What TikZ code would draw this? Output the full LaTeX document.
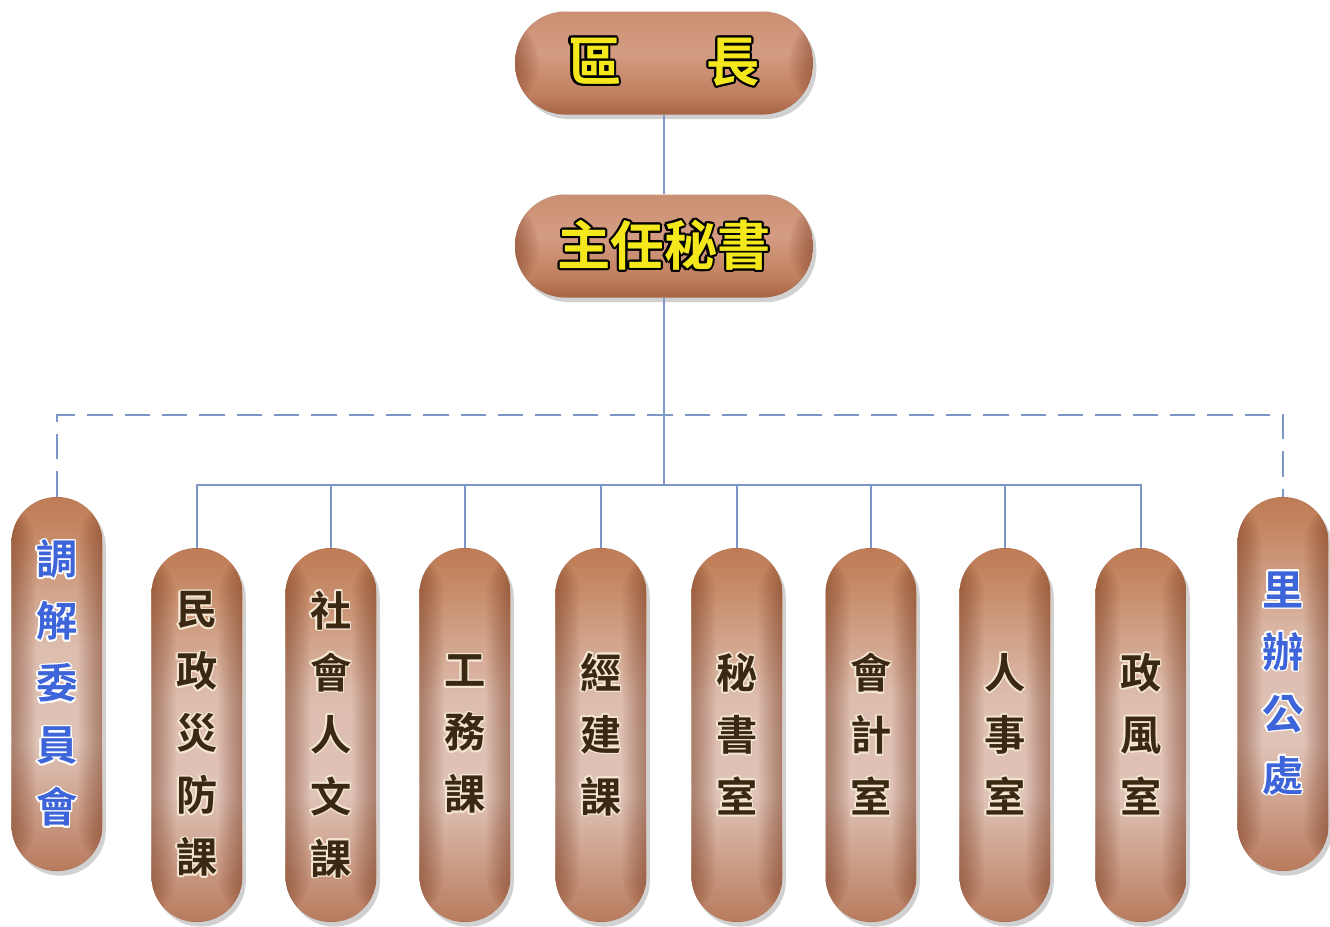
\documentclass[tikz,border=0pt]{standalone}
\usepackage{fontspec}
\newfontfamily\cjk{Noto Sans CJK TC}[BoldFont={Noto Sans CJK TC Bold}]
\usepackage{contour}
\usetikzlibrary{shadows}
\definecolor{lineblue}{HTML}{7D97C7}
\definecolor{topyellow}{HTML}{F4E81C}
\definecolor{coltext}{HTML}{3A2812}
\definecolor{colglow}{HTML}{F4E6D2}
\definecolor{sideblue}{HTML}{3D64D8}
\definecolor{edgebrown}{HTML}{6E2E12}
\definecolor{ca}{HTML}{853C1C}
\definecolor{cb}{HTML}{9C4E2A}
\definecolor{cc}{HTML}{B87A5C}
\definecolor{cd}{HTML}{E0C4B8}
\definecolor{ce}{HTML}{DDBDAE}
\definecolor{cf}{HTML}{C2835E}
\definecolor{cg}{HTML}{B25F34}
\definecolor{ch}{HTML}{A4552C}
\definecolor{ta}{HTML}{6E2E14}
\definecolor{tb}{HTML}{8E4628}
\definecolor{tc}{HTML}{C0805F}
\definecolor{td}{HTML}{D49C82}
\definecolor{te}{HTML}{C98E70}
\definecolor{tf}{HTML}{B06A48}
\definecolor{tg}{HTML}{9A5030}
\pgfdeclareverticalshading{colshade}{100bp}{
  color(0bp)=(ca); color(10bp)=(cb); color(25bp)=(cc);
  color(42bp)=(cd); color(55bp)=(ce); color(72bp)=(cf);
  color(88bp)=(cg); color(100bp)=(ch)}
\pgfdeclareverticalshading{topshade}{100bp}{
  color(0bp)=(ta); color(14bp)=(tb); color(35bp)=(tc);
  color(55bp)=(td); color(78bp)=(te); color(92bp)=(tf);
  color(100bp)=(tg)}
\newcommand\ycj[1]{\contour{black}{\textcolor{topyellow}{#1}}}
\newcommand\bcj[1]{\contour{colglow}{\textcolor{coltext}{#1}}}
\newcommand\scj[1]{\contour{white}{\textcolor{sideblue}{#1}}}
\contournumber{12}
\begin{document}
\begin{tikzpicture}[x=0.75pt,y=-0.75pt,
  shadowed/.style={drop shadow={shadow xshift=2.5pt, shadow yshift=-3.5pt, opacity=0.18, fill=black}},
  edges/.style={path picture={
    \foreach \w in {1.5,3,...,18} {
      \fill[edgebrown, opacity=0.045] (path picture bounding box.south west) rectangle ([xshift=\w pt]path picture bounding box.north west);
      \fill[edgebrown, opacity=0.045] (path picture bounding box.south east) rectangle ([xshift=-\w pt]path picture bounding box.north east);
    }}},
  topbox/.style={shadowed, shading=topshade, rounded corners=38pt, edges,
    minimum width=223.5pt, minimum height=77.25pt, inner sep=0pt,
    font=\cjk\bfseries\fontsize{40pt}{40pt}\selectfont},
  colbox/.style={shadowed, shading=colshade, rounded corners=34pt, edges,
    minimum width=68.25pt, minimum height=280.5pt, inner sep=0pt, align=center,
    font=\cjk\bfseries\fontsize{31pt}{46.5pt}\selectfont},
  conn/.style={draw=lineblue, line width=1.5pt},
  dashconn/.style={conn, dash pattern=on 19pt off 9pt}
]
\useasboundingbox (0,0) rectangle (1330,926);
\contourlength{1.6pt}
\node[topbox] (qz) at (664,63) {\ycj{區}\hspace{1.6em}\ycj{長}};
\node[topbox] (zr) at (664,246) {\ycj{主}\ycj{任}\ycj{秘}\ycj{書}};
\contourlength{1.2pt}
\node[colbox] (c1) at (197,735) {\bcj{民}\\\bcj{政}\\\bcj{災}\\\bcj{防}\\\bcj{課}};
\node[colbox] (c2) at (331,735) {\bcj{社}\\\bcj{會}\\\bcj{人}\\\bcj{文}\\\bcj{課}};
\node[colbox] (c3) at (465,735) {\bcj{工}\\\bcj{務}\\\bcj{課}};
\node[colbox] (c4) at (601,735) {\bcj{經}\\\bcj{建}\\\bcj{課}};
\node[colbox] (c5) at (737,735) {\bcj{秘}\\\bcj{書}\\\bcj{室}};
\node[colbox] (c6) at (871,735) {\bcj{會}\\\bcj{計}\\\bcj{室}};
\node[colbox] (c7) at (1005,735) {\bcj{人}\\\bcj{事}\\\bcj{室}};
\node[colbox] (c8) at (1141,735) {\bcj{政}\\\bcj{風}\\\bcj{室}};
\node[colbox] (lb) at (57,684) {\scj{調}\\\scj{解}\\\scj{委}\\\scj{員}\\\scj{會}};
\node[colbox] (rb) at (1283,684) {\scj{里}\\\scj{辦}\\\scj{公}\\\scj{處}};
\coordinate (dj) at (664,415);
\coordinate (sj) at (664,485);
\draw[conn] (qz.south) -- (zr.north);
\draw[conn] (zr.south) -- (sj);
\draw[dashconn] (lb.north) |- (dj) -| (rb.north);
\draw[conn] (c1.north) |- (sj) -| (c8.north);
\foreach \c in {c2,c3,c4,c5,c6,c7} \draw[conn] (\c.north) -- (\c.north |- sj);
\end{tikzpicture}
\end{document}
